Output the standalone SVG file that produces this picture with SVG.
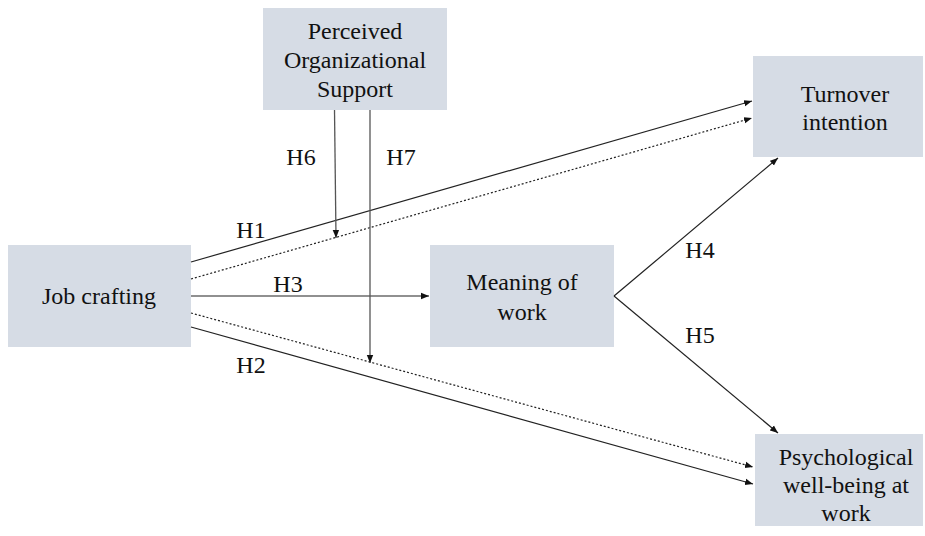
<svg xmlns="http://www.w3.org/2000/svg" width="925" height="536" viewBox="0 0 925 536">
  <style>
    .box { fill: #d6dce5; }
    .lbl { font-family: 'Liberation Serif', 'Times New Roman', serif; font-size: 24px; fill: #111; text-anchor: middle; }
    .hyp { font-family: 'Liberation Serif', 'Times New Roman', serif; font-size: 24px; fill: #111; text-anchor: middle; }
    .ln { stroke: #222; stroke-width: 1.2; fill: none; marker-end: url(#arr); }
    .dot { stroke-dasharray: 2 2; }
    .vl { stroke: #555; stroke-width: 1.3; fill: none; }
  </style>
  <defs>
    <marker id="arr" viewBox="0 0 10 10" refX="10" refY="5" markerWidth="8" markerHeight="8" orient="auto" markerUnits="userSpaceOnUse">
      <path d="M0,1 L10,5 L0,9 Z" fill="#111"/>
    </marker>
  </defs>
  <rect width="925" height="536" fill="#fff"/>

  <g id="pos">
    <rect class="box" x="263" y="8" width="184" height="102"/>
    <text class="lbl" x="355" y="39">Perceived</text>
    <text class="lbl" x="355" y="68">Organizational</text>
    <text class="lbl" x="355" y="97">Support</text>
  </g>
  <g id="job-crafting">
    <rect class="box" x="8" y="245" width="183" height="102"/>
    <text class="lbl" x="99" y="304">Job crafting</text>
  </g>
  <g id="meaning">
    <rect class="box" x="430" y="245" width="184" height="102"/>
    <text class="lbl" x="522" y="290">Meaning of</text>
    <text class="lbl" x="522" y="320">work</text>
  </g>
  <g id="turnover">
    <rect class="box" x="753" y="56" width="170" height="101"/>
    <text class="lbl" x="845" y="102">Turnover</text>
    <text class="lbl" x="845" y="130">intention</text>
  </g>
  <g id="wellbeing">
    <rect class="box" x="755" y="434" width="168" height="92"/>
    <text class="lbl" x="846" y="465">Psychological</text>
    <text class="lbl" x="846" y="493">well-being at</text>
    <text class="lbl" x="846" y="521">work</text>
  </g>

  <g id="connectors">
    <line class="ln" x1="191" y1="262" x2="752" y2="101"/>
    <line class="ln dot" x1="191" y1="279" x2="752" y2="118"/>
    <line class="ln" x1="191" y1="296" x2="429" y2="296"/>
    <line class="ln dot" x1="191" y1="313" x2="753" y2="467"/>
    <line class="ln" x1="191" y1="327" x2="753" y2="484"/>
    <line class="ln" x1="614" y1="296" x2="778" y2="158"/>
    <line class="ln" x1="614" y1="296" x2="778" y2="433"/>
    <line class="vl" x1="334.5" y1="110" x2="336" y2="238" marker-end="url(#arr)"/>
    <line class="vl" x1="370" y1="110" x2="370" y2="363" marker-end="url(#arr)"/>
  </g>

  <g id="labels">
    <text class="hyp" x="301" y="165">H6</text>
    <text class="hyp" x="401" y="165">H7</text>
    <text class="hyp" x="251" y="238">H1</text>
    <text class="hyp" x="288" y="292">H3</text>
    <text class="hyp" x="251" y="373">H2</text>
    <text class="hyp" x="700" y="258">H4</text>
    <text class="hyp" x="700" y="343">H5</text>
  </g>
</svg>
